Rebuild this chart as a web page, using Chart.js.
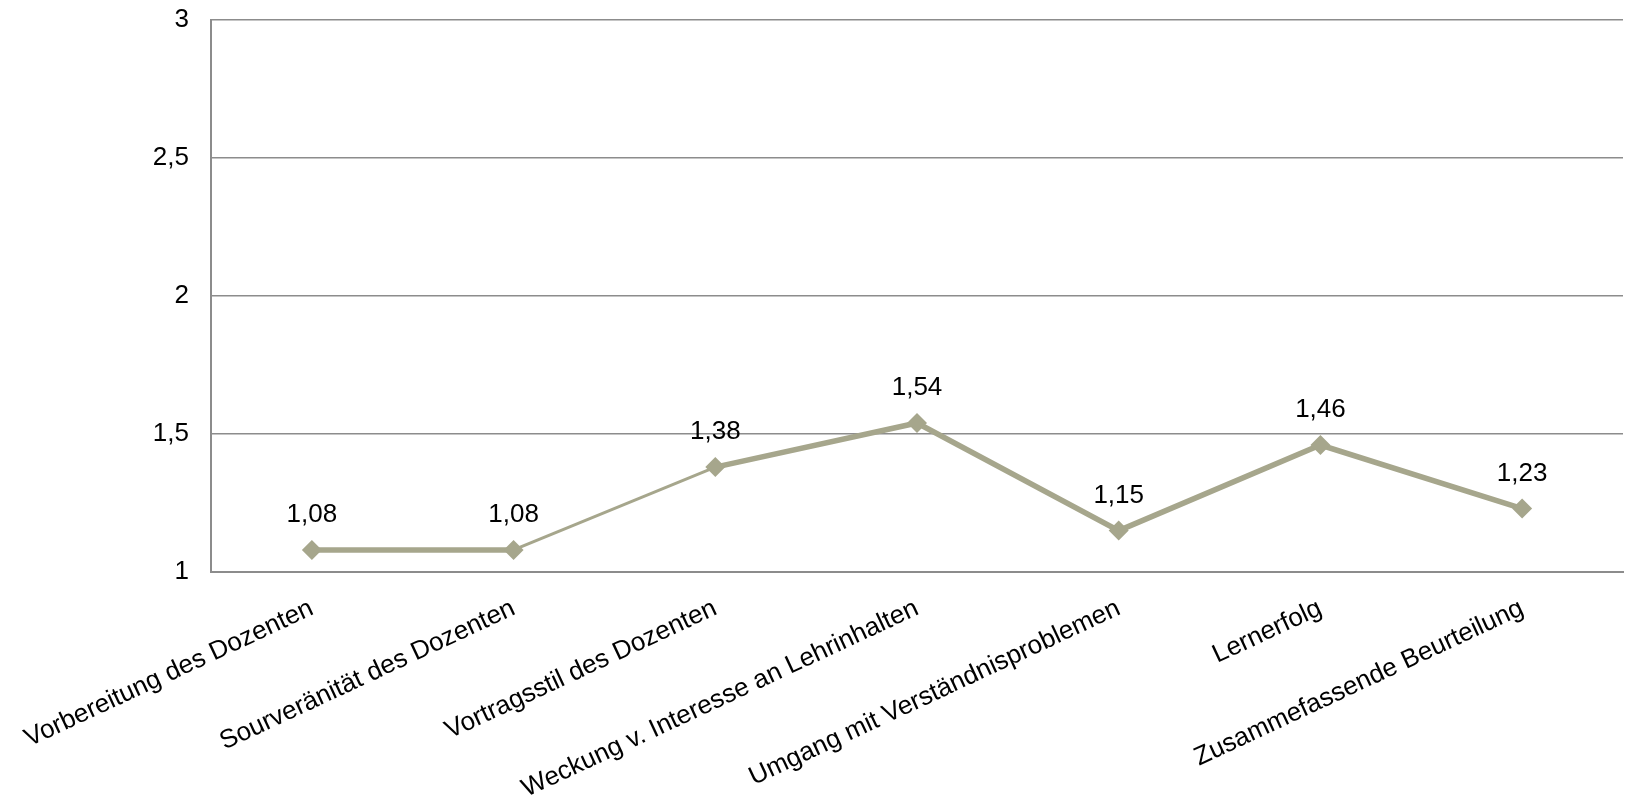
<!DOCTYPE html>
<html>
<head>
<meta charset="utf-8">
<script src="https://cdn.jsdelivr.net/npm/chart.js@4/dist/chart.umd.min.js"></script>
<style>
  html, body { margin: 0; padding: 0; background: #fff; }
  #wrap { width: 1633px; height: 803px; }
</style>
</head>
<body>
<div id="wrap"><canvas id="chart"></canvas></div>
<script>
const categories = [
    "Vorbereitung des Dozenten",
    "Sourveränität des Dozenten",
    "Vortragsstil des Dozenten",
    "Weckung v. Interesse an Lehrinhalten",
    "Umgang mit Verständnisproblemen",
    "Lernerfolg",
    "Zusammefassende Beurteilung"
];
const scores = [1.08, 1.08, 1.38, 1.54, 1.15, 1.46, 1.23];
const yTicks = [1, 1.5, 2, 2.5, 3];

const colors = {
    line: "#a6a68c",
    grid: "#8c8c8c",
    text: "#000000"
};

const fontFamily = "'Liberation Sans', Arial, sans-serif";
const fontSize = 26;
const toComma = (v) => String(v).replace(".", ",");

// writes each value above its marker
const valueLabels = {
    id: "valueLabels",
    afterDatasetsDraw(chart) {
        const ctx = chart.ctx;
        const meta = chart.getDatasetMeta(0);
        ctx.save();
        ctx.font = fontSize + "px " + fontFamily;
        ctx.fillStyle = colors.text;
        ctx.textAlign = "center";
        ctx.textBaseline = "middle";
        meta.data.forEach((pt, i) => {
            ctx.fillText(toComma(scores[i].toFixed(2)), pt.x, pt.y - 35);
        });
        ctx.restore();
    }
};

const ctx = document.getElementById("chart").getContext("2d");
new Chart(ctx, {
    type: "line",
    data: {
        labels: categories,
        datasets: [{
            data: scores,
            borderColor: colors.line,
            backgroundColor: colors.line,
            borderWidth: 5.5,
            tension: 0,
            fill: false,
            pointStyle: "rectRot",
            pointRadius: 10,
            pointBorderWidth: 0,
            pointBackgroundColor: colors.line,
            segment: {
                borderWidth: (c) => c.p0DataIndex === 1 ? 3 : 5.5
            }
        }]
    },
    plugins: [valueLabels],
    options: {
        responsive: true,
        maintainAspectRatio: false,
        animation: false,
        layout: { padding: { top: 20, right: 0, left: 0, bottom: 0 } },
        plugins: {
            legend: { display: false },
            tooltip: { enabled: false }
        },
        scales: {
            x: {
                offset: true,
                grid: { display: false, drawTicks: false },
                border: { display: true, color: colors.grid, width: 2 },
                ticks: {
                    color: colors.text,
                    font: { family: fontFamily, size: fontSize },
                    minRotation: 25,
                    maxRotation: 25,
                    autoSkip: false,
                    padding: 21
                },
                afterFit(scale) {
                    scale.height = 231;
                    scale.paddingLeft = 0;
                    scale.paddingRight = 0;
                }
            },
            y: {
                min: 1,
                max: 3,
                afterBuildTicks(scale) {
                    scale.ticks = yTicks.map((v) => ({ value: v }));
                },
                grid: { color: colors.grid, lineWidth: 1.5, drawTicks: false },
                border: { display: true, color: colors.grid, width: 2 },
                ticks: {
                    color: colors.text,
                    font: { family: fontFamily, size: fontSize },
                    padding: 22,
                    callback: (v) => toComma(v)
                },
                afterFit(scale) {
                    scale.width = 211;
                    scale.paddingTop = 0;
                    scale.paddingBottom = 0;
                }
            }
        }
    }
});
</script>
</body>
</html>
